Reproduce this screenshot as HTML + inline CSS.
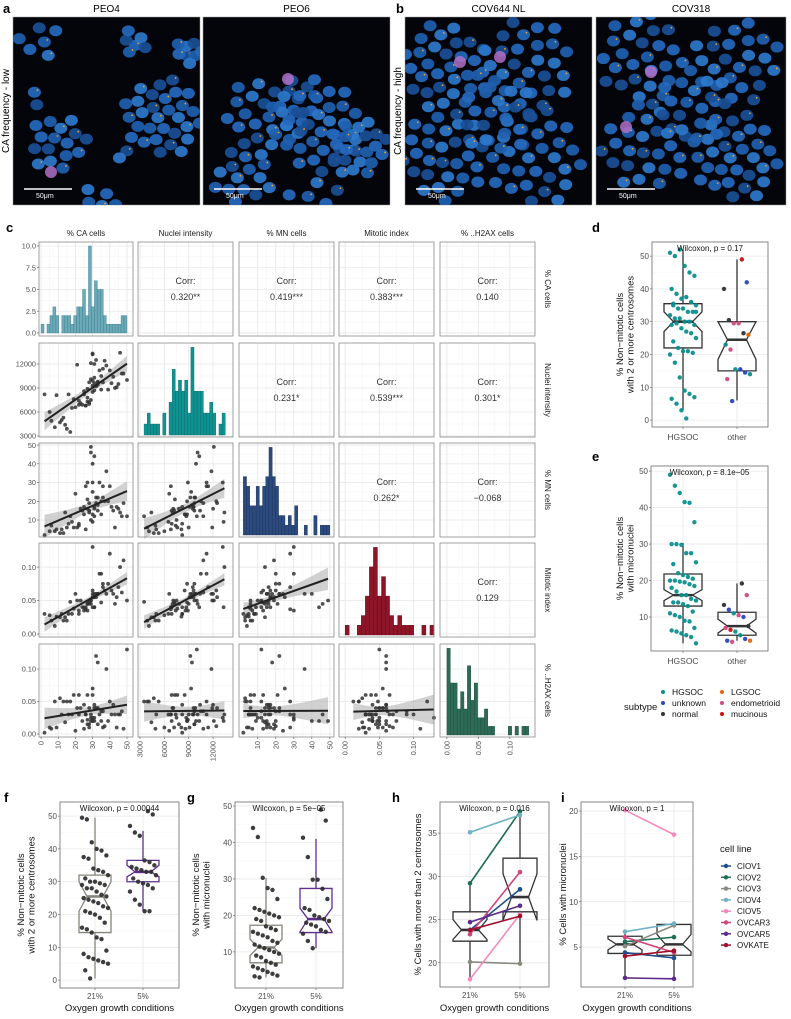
<!DOCTYPE html>
<html><head><meta charset="utf-8">
<style>
html,body{margin:0;padding:0;background:#fff;}
svg{display:block;font-family:"Liberation Sans",Arial,sans-serif;}
</style></head>
<body>
<svg id="fig" width="791" height="1019" viewBox="0 0 791 1019" xmlns="http://www.w3.org/2000/svg"></svg>
<script>
// ---------------- DATA ----------------
const varNames = ["% CA cells","Nuclei intensity","% MN cells","Mitotic index","% ..H2AX cells"];
const caVals = [28,31,25,35,12,40,22,30,33,18,45,27,29,8,36,31,24,50,15,33,30,26,38,20,11,42,29,34,5,31,23,37,30,16,48,28,32,19,44,26,30,13,35,27,22,39,31,9,46,29,33,25,17,41,30,21,36,28,2,47,14,32,27,6,43];
const niVals = [9700,10300,8200,8800,5000,11200,7400,13200,9800,6500,9500,7300,12100,4100,11400,9600,6900,10000,3900,9700,8500,6800,11800,6600,4700,10400,10100,11200,6000,8700,7100,12400,9300,8200,10800,7000,9200,7600,9100,6800,9900,5300,10500,7800,6900,8800,12000,8100,13400,7500,9400,8600,3500,9600,13300,11900,9700,7200,8200,10800,4400,12500,8900,4900,9000];
const mnVals = [19,44,17,13,5,28,7,30,22,9,16,21,49,4,28,17,15,12,6,15,13,5,36,24,3,15,46,30,4,12,16,20,25,8,19,14,22,6,17,28,40,3,20,16,8,20,16,5,14,10,18,13,12,17,9,6,22,15,2,12,14,19,30,7,6];
const miVals = [0.05,0.04,0.04,0.047,0.03,0.12,0.035,0.13,0.06,0.03,0.07,0.045,0.05,0.012,0.07,0.055,0.04,0.05,0.02,0.06,0.065,0.04,0.06,0.06,0.025,0.06,0.045,0.09,0.028,0.04,0.05,0.065,0.055,0.03,0.11,0.045,0.06,0.038,0.055,0.037,0.06,0.02,0.09,0.045,0.03,0.075,0.06,0.026,0.1,0.05,0.06,0.035,0.048,0.065,0.04,0.05,0.075,0.048,0.03,0.062,0.025,0.055,0.035,0.02,0.045];
const h2Vals = [0.015,0.02,0.045,0.02,0.03,0.05,0.03,0.025,0.04,0.03,0.03,0.06,0.02,0.05,0.01,0.04,0.02,0.13,0.05,0.015,0.06,0.03,0.1,0.005,0.055,0.045,0.03,0.03,0.01,0.025,0.04,0.012,0.07,0.03,0.008,0.04,0.12,0.06,0.01,0.03,0.02,0.05,0.035,0.015,0.06,0.02,0.045,0.01,0.03,0.025,0.11,0.008,0.05,0.03,0.02,0.04,0.035,0.01,0.002,0.035,0.018,0.04,0.022,0.008,0.03];
const histCA = [1,0,1,2,3,2,0,2,2,2,1,2,3,3,5,2,10,3,6,5,5,2,1,1,1,1,1,2,2];
const histNI = [1,2,1,1,1,0,2,0,3,6,4,5,4,5,2,8,4,4,4,2,2,3,2,0,1,2];
const histMN = [6,5,3,3,5,3,5,6,9,6,5,2,2,1,2,1,3,0,0,1,0,0,2,0,1,1,1];
const histMI = [1,0,0,1,2,4,7,9,4,6,4,2,1,2,1,1,1,0,0,1,0,1];
const histH2 = [10,6,6,3,5,3,8,4,6,2,2,3,1,1,0,0,0,0,1,0,1,0,1,1];
const corrText = {"0-1":"0.320**","0-2":"0.419***","0-3":"0.383***","0-4":"0.140","1-2":"0.231*","1-3":"0.539***","1-4":"0.301*","2-3":"0.262*","2-4":"\u22120.068","3-4":"0.129"};

const subtypeNames = ["HGSOC","unknown","normal","LGSOC","endometrioid","mucinous"];
const dHGSOC = [51,50,52,47,45,44,40,38.5,37,37.5,36,35,35,34,34,33,33,32,31,31,30,30,29,29,29.5,28,27,26.5,25,24,22,21,21,20.5,20,17.5,13,9,8,7,6.5,5,3,0.5,36,33,35.5];
const dOther = [49,42,40,30.5,29.5,29.5,26.5,26,23,21.5,15.5,15.5,14.5,14,12.5,5.8];
const dOtherType = ["mucinous","unknown","normal","normal","endometrioid","endometrioid","normal","LGSOC","HGSOC","endometrioid","HGSOC","unknown","unknown","HGSOC","endometrioid","unknown"];
// box stats: [lo, q1, med, q3, hi, notchLo, notchHi]
const dBoxes = [[3,22,30,35.5,52,27,33],[6,15,24.5,30,49,18.5,30]];
const eHGSOC = [49,46,44,41.5,41.3,36,30,30,29.8,27.5,27.5,25,24.5,22,21.5,21,20.5,20,20,19.7,19.5,19,18.5,18,17,16,16,15,14.5,14,14,13.5,13,11.5,11,10.5,10,9,8.8,7,6.3,6,5.5,5,4.5,2.8];
const eOther = [19.2,16,13.3,12,11,10.5,10,7.5,7,6.5,6,5,4,3.5,3.5,3.2];
const eOtherType = ["normal","endometrioid","normal","unknown","HGSOC","endometrioid","unknown","normal","endometrioid","mucinous","HGSOC","HGSOC","unknown","LGSOC","unknown","endometrioid"];
const eBoxes = [[2.8,13,16,21.8,30.3,14.5,17.5],[3.5,5,7.5,11.3,19.2,5.6,9.4]];

const fLow = [49.5,49,42,40,39.5,38,37.5,37,34,33.5,33,32,31,30,30,29.5,29,29,28,28,27,26,25.5,25,24.5,24,23.5,22.5,22,21,20.5,20,19,17.5,16,15.5,14.5,13,12.5,9,8,7,6.5,6,5.5,5,3,0.5];
const fHigh = [51.5,50.5,47,45,44,36.5,36,35,34.5,34,33.5,33,33,32,31,30,29.5,29,28,27,24.5,23,21,21];
const fBoxes = [[0.5,14.5,25.5,32,49.5,21,30],[21,30,33,36.5,45.5,31.5,35]];
const gLow = [44,41.5,30.3,27.5,27,24.5,22,21.5,21,20.5,20,19.5,19,18.5,17,16.5,16,15.5,15,14.5,14,13,12.5,12,11.5,11,10.5,10,9.5,9,8.5,7.5,7,6.5,6,5.5,5,4.5,4,3.5,3.3,3];
const gHigh = [49,46,41.3,36,29.8,29.8,27.3,24.5,22,21.5,20,19.5,19,18.5,18,17.5,17,16,15.5,15,13,11];
const gBoxes = [[3,7,11.2,17.3,30.3,9,13.5],[11,15.3,19,27.4,41,15.5,22]];

const cellLines = ["CIOV1","CIOV2","CIOV3","CIOV4","CIOV5","OVCAR3","OVCAR5","OVKATE"];
const hLow = [23.8,29.2,20.1,35.1,18.1,23.3,24.7,23.8];
const hHigh = [28.5,37.5,19.9,37.1,25.6,30.5,26.6,25.4];
const hBoxes = [[18.1,22.5,23.8,25.9,29.2,22.7,25.0],[19.9,25.9,27.6,32.1,37.5,24.9,30.3]];
const iLow = [4.4,5.6,5.1,6.7,20.1,6.1,1.6,4.0];
const iHigh = [3.8,6.1,7.4,7.6,17.4,4.4,1.5,4.6];
const iBoxes = [[1.6,4.3,5.3,6.2,6.7,4.7,5.9],[1.5,4.1,5.3,7.5,7.6,4.5,6.4]];
const groups = ["21%","5%"];

// ---------------- helpers ----------------
const NS="http://www.w3.org/2000/svg";
const svg=document.getElementById("fig");
function mk(tag,attrs,parent){const e=document.createElementNS(NS,tag);for(const k in attrs)e.setAttribute(k,attrs[k]);(parent||svg).appendChild(e);return e;}
function txt(s,x,y,attrs,parent){const t=mk("text",Object.assign({x:x,y:y},attrs||{}),parent);t.textContent=s;return t;}
function lin(d0,d1,r0,r1){return v=>r0+(v-d0)*(r1-r0)/(d1-d0);}
const subColors={HGSOC:"#0b8f8f",unknown:"#2a45c0",normal:"#333333",LGSOC:"#e0640c",endometrioid:"#d04a82",mucinous:"#cc1010"};
const lineColors=["#1f4e8c","#1d6e55","#8a8a80","#6fb3c4","#f08cbc","#d1457a","#5b2a8c","#a0102a"];

// ---------------- panels a,b (images) ----------------
const imgs=[
 {x:13,y:17,w:187,h:188,t:"PEO4",cl:[[25,25,22,6],[120,25,14,6],[175,35,14,8],[150,100,40,30],[45,125,30,16],[20,80,10,2],[110,135,8,2],[85,185,20,7]],pink:[[38,155]]},
 {x:203,y:17,w:187,h:188,t:"PEO6",cl:[[60,100,40,22],[115,110,45,30],[155,130,30,22],[40,160,30,14],[110,185,30,8],[95,85,30,10]],pink:[[85,62]]},
 {x:405,y:17,w:187,h:188,t:"COV644 NL",cl:[[40,50,45,30],[120,50,50,30],[40,140,45,28],[130,140,50,30],[90,100,40,20]],pink:[[55,45],[95,40]]},
 {x:596,y:17,w:190,h:188,t:"COV318",cl:[[45,40,45,25],[140,45,45,25],[50,130,45,25],[140,140,45,30],[95,90,40,20]],pink:[[55,55],[30,110]]}
];
const clipDefs=mk("defs",{});
imgs.forEach((im,k)=>{
  const g=mk("g",{});
  
  
  const cp=mk("clipPath",{id:"cp"+k},clipDefs);mk("rect",{x:im.x,y:im.y,width:im.w,height:im.h},cp);
  mk("rect",{x:im.x,y:im.y,width:im.w,height:im.h,fill:"#03050a",stroke:"#999","stroke-width":0.5},g);
  const gg=mk("g",{"clip-path":"url(#cp"+k+")"},g);
  im.cl.forEach((c,ci)=>{
    for(let i=0;i<c[3];i++){
      const a=i*2.39996+ci, r=Math.sqrt(i+0.5)/Math.sqrt(c[3])*c[2];
      const cx=im.x+c[0]+Math.cos(a)*r, cy=im.y+c[1]+Math.sin(a)*r;
      const shade=["#1f5fb0","#2569be","#1a4f96","#2d78cc"][(i+ci)%4];
      mk("ellipse",{cx:cx,cy:cy,rx:6.5,ry:5.5,fill:shade,opacity:0.92},gg);
      if(i%3===0) mk("circle",{cx:cx+3,cy:cy-2,r:0.9,fill:"#f2a31c"},gg);
    }
  });
  im.pink.forEach(p=>mk("circle",{cx:im.x+p[0],cy:im.y+p[1],r:6,fill:"#b070c8",opacity:0.85},gg));
  mk("line",{x1:im.x+11,x2:im.x+59,y1:im.y+172,y2:im.y+172,stroke:"#fff","stroke-width":1.5},g);
  txt("50\u03bcm",im.x+23,im.y+181,{fill:"#fff","font-size":7},g);
  const ti=txt(im.t,im.x+im.w/2,12,{"font-size":10,"text-anchor":"middle"});
  
  
});
txt("a",3,13,{"font-size":13,"font-weight":"bold"});
txt("b",396,13,{"font-size":13,"font-weight":"bold"});
const lowT=txt("CA frequency - low",9,111,{"font-size":10,"text-anchor":"middle",transform:"rotate(-90 9 111)"});


const hiT=txt("CA frequency - high",401,111,{"font-size":10,"text-anchor":"middle",transform:"rotate(-90 401 111)"});



// ---------------- panel c: pairs matrix ----------------
txt("c",6,232,{"font-size":13,"font-weight":"bold"});
const vars=[caVals,niVals,mnVals,miVals,h2Vals];
const hists=[histCA,histNI,histMN,histMI,histH2];
const histRange=[[0,50],[3500,13500],[2,50],[0,0.13],[0,0.13]];
const histCol=[["#6aa9b8","#3f7d8c"],["#0f9292","#0a6767"],["#2b4a7e","#1c3157"],["#8c1528","#5e0c1a"],["#2e6b56","#1d4a3b"]];
const colsX=[[39,133],[138,233],[239,334],[339,434],[440,535]];
const rowsY=[[242,336],[343,437],[443,537],[543,637],[644,737]];
const xDom=[[-1.2,53.5],[2750,14460],[-0.4,52.3],[-0.009,0.13],[-0.011,0.14]];
const yDom=[[-0.35,10.46],[2880,14620],[0.93,51.1],[-0.0045,0.136],[-0.0046,0.1385]];
const ticks=[[0,10,20,30,40,50],[3000,6000,9000,12000],[10,20,30,40,50],[0,0.05,0.10],[0,0.05,0.10]];
const tickLab=[["0","10","20","30","40","50"],["3000","6000","9000","12000"],["10","20","30","40","50"],["0.00","0.05","0.10"],["0.00","0.05","0.10"]];
const countTicks=[0,2.5,5,7.5,10], countLab=["0.0","2.5","5.0","7.5","10.0"];
const mat=mk("g",{});


for(let j=0;j<5;j++){const h=txt(varNames[j],(colsX[j][0]+colsX[j][1])/2,236,{"font-size":8,fill:"#1a1a1a","text-anchor":"middle"},mat);
  
  }
for(let i=0;i<5;i++){const cy=(rowsY[i][0]+rowsY[i][1])/2;
  const s=txt(varNames[i],545,cy,{"font-size":8,fill:"#1a1a1a","text-anchor":"middle",transform:"rotate(90 545 "+cy+")"},mat);
  
  }
function fit(xs,ys){const n=xs.length;let mx=0,my=0;for(let k=0;k<n;k++){mx+=xs[k];my+=ys[k];}mx/=n;my/=n;
  let sxx=0,sxy=0;for(let k=0;k<n;k++){sxx+=(xs[k]-mx)**2;sxy+=(xs[k]-mx)*(ys[k]-my);}const b=sxy/sxx,a=my-b*mx;
  let ss=0;for(let k=0;k<n;k++)ss+=(ys[k]-a-b*xs[k])**2;const s=Math.sqrt(ss/(n-2));return {a,b,s,mx,sxx,n};}
for(let i=0;i<5;i++)for(let j=0;j<5;j++){
  const [x0,x1]=colsX[j],[y0,y1]=rowsY[i];
  const g=mk("g",{},mat);
  
  
  mk("rect",{x:x0,y:y0,width:x1-x0,height:y1-y0,fill:"#fff"},g);
  const sx=lin(xDom[j][0],xDom[j][1],x0,x1);
  const yd=(i===0)?yDom[0]:yDom[i];
  const sy=lin(yd[0],yd[1],y1,y0);
  const xt=ticks[j];
  for(let k=0;k<xt.length;k++){mk("line",{x1:sx(xt[k]),x2:sx(xt[k]),y1:y0,y2:y1,stroke:"#e6e6e6","stroke-width":0.8},g);
    if(k<xt.length-1){const m=(xt[k]+xt[k+1])/2;mk("line",{x1:sx(m),x2:sx(m),y1:y0,y2:y1,stroke:"#f3f3f3","stroke-width":0.5},g);}}
  const yt=(i===0)?countTicks:ticks[i];
  for(let k=0;k<yt.length;k++){if(sy(yt[k])<y0||sy(yt[k])>y1)continue;mk("line",{y1:sy(yt[k]),y2:sy(yt[k]),x1:x0,x2:x1,stroke:"#e6e6e6","stroke-width":0.8},g);
    if(k<yt.length-1){const m=(yt[k]+yt[k+1])/2;mk("line",{y1:sy(m),y2:sy(m),x1:x0,x2:x1,stroke:"#f3f3f3","stroke-width":0.5},g);}}
  if(i===j){
    const hv=hists[i],hr=histRange[i],mx=Math.max(...hv);
    const hy=(i===0)?sy:lin(0,mx*1.05,y1-2,y0);
    const base=(i===0)?sy(0):y1-2;
    const bw=(sx(hr[1])-sx(hr[0]))/hv.length;
    hv.forEach((c,k)=>{if(c<=0)return;const r=mk("rect",{x:sx(hr[0])+k*bw,y:hy(c),width:bw,height:base-hy(c),fill:histCol[i][0],stroke:histCol[i][1],"stroke-width":0.4},g);
      
      });
  } else if(i<j){
    const cx=(x0+x1)/2,cy=(y0+y1)/2;
    txt("Corr:",cx,cy-5,{"font-size":9,fill:"#333","text-anchor":"middle"},g);
    const v=txt(corrText[i+"-"+j],cx,cy+11,{"font-size":9,fill:"#333","text-anchor":"middle"},g);
    
    
  } else {
    const xs=vars[j],ys=vars[i];const f=fit(xs,ys);
    const xmin=Math.min(...xs),xmax=Math.max(...xs);let up=[],lo=[];
    for(let k=0;k<=20;k++){const xv=xmin+(xmax-xmin)*k/20;const yv=f.a+f.b*xv;const se=2*f.s*Math.sqrt(1/f.n+(xv-f.mx)**2/f.sxx);
      up.push(sx(xv)+","+sy(yv+se));lo.unshift(sx(xv)+","+sy(yv-se));}
    const band=mk("polygon",{points:up.concat(lo).join(" "),fill:"#b3b3b3",opacity:0.6},g);
    
    
    xs.forEach((xv,k)=>{const p=mk("circle",{cx:sx(xv),cy:sy(ys[k]),r:1.9,fill:"#333",opacity:0.85},g);
      
      });
    const rl=mk("line",{x1:sx(xmin),y1:sy(f.a+f.b*xmin),x2:sx(xmax),y2:sy(f.a+f.b*xmax),stroke:"#222","stroke-width":2},g);
    
    
  }
  mk("rect",{x:x0,y:y0,width:x1-x0,height:y1-y0,fill:"none",stroke:"#8a8a8a","stroke-width":0.8},g);
  if(j===0){
    yt.forEach((t,k)=>{const yy=sy(t);if(yy<y0-3||yy>y1+3)return;
      mk("line",{x1:x0-2,x2:x0,y1:yy,y2:yy,stroke:"#555","stroke-width":0.6},g);
      txt((i===0?countLab:tickLab[i])[k],x0-3,yy+2.7,{"font-size":7.3,fill:"#4d4d4d","text-anchor":"end"},g);});
  }
  if(i===4){
    xt.forEach((t,k)=>{const xx=sx(t);mk("line",{x1:xx,x2:xx,y1:y1,y2:y1+2,stroke:"#555","stroke-width":0.6},g);
      txt(tickLab[j][k],xx+2.5,y1+4,{"font-size":7.3,fill:"#4d4d4d","text-anchor":"end",transform:"rotate(-90 "+(xx+2.5)+" "+(y1+4)+")"},g);});
  }
}

// ---------------- box panel helper ----------------
function boxPanel(o){
  const g=mk("g",{});
  
  
  const sy=lin(o.dom[0],o.dom[1],o.y1,o.y0);
  mk("rect",{x:o.x0,y:o.y0,width:o.x1-o.x0,height:o.y1-o.y0,fill:"#fff"},g);
  o.ticks.forEach((t,k)=>{const yy=sy(t);
    mk("line",{x1:o.x0,x2:o.x1,y1:yy,y2:yy,stroke:"#e8e8e8","stroke-width":0.8},g);
    if(k<o.ticks.length-1){const m=sy((t+o.ticks[k+1])/2);mk("line",{x1:o.x0,x2:o.x1,y1:m,y2:m,stroke:"#f4f4f4","stroke-width":0.5},g);}
    mk("line",{x1:o.x0-2,x2:o.x0,y1:yy,y2:yy,stroke:"#555","stroke-width":0.6},g);
    const tl=txt(String(t),o.x0-3,yy+3,{"font-size":8,fill:"#4d4d4d","text-anchor":"end"},g);
    
    });
  o.cx.forEach((cx,k)=>{mk("line",{x1:cx,x2:cx,y1:o.y0,y2:o.y1,stroke:"#e8e8e8","stroke-width":0.8},g);
    mk("line",{x1:cx,x2:cx,y1:o.y1,y2:o.y1+2,stroke:"#555","stroke-width":0.6},g);
    const xl=txt(o.cats[k],cx,o.y1+(o.catDy||11),{"font-size":o.catFs||8,fill:"#4d4d4d","text-anchor":"middle"},g);
    
    });
  const boxes=mk("g",{},g);
  const drawBox=(b,cx,col)=>{const w=o.hw;const [lo,q1,md,q3,hi,nl,nh]=b;
    const bx=mk("g",{},boxes);
    
    
    mk("line",{x1:cx,x2:cx,y1:sy(q3),y2:sy(hi),stroke:col,"stroke-width":1.3},bx);
    mk("line",{x1:cx,x2:cx,y1:sy(q1),y2:sy(lo),stroke:col,"stroke-width":1.3},bx);
    const pts=[[cx-w,sy(q3)],[cx+w,sy(q3)],[cx+w,sy(nh)],[cx+w/2,sy(md)],[cx+w,sy(nl)],[cx+w,sy(q1)],[cx-w,sy(q1)],[cx-w,sy(nl)],[cx-w/2,sy(md)],[cx-w,sy(nh)]];
    mk("polygon",{points:pts.map(p=>p.join(",")).join(" "),fill:o.boxFill||"none",stroke:col,"stroke-width":1.3},bx);
    mk("line",{x1:cx-w/2,x2:cx+w/2,y1:sy(md),y2:sy(md),stroke:col,"stroke-width":2.6},bx);};
  o.boxes.forEach((b,k)=>{if(!o.boxOnTop)drawBox(b,o.cx[k],o.boxCol[k]);});
  o.points.forEach((arr,k)=>{arr.forEach((v,i)=>{const jit=(((i*37+k*11)%17)-8)/8*o.jit;
    const col=o.pcol?o.pcol(k,i):"#333";
    const p=mk("circle",{cx:o.cx[k]+jit,cy:sy(v),r:2.2,fill:col,opacity:0.95},g);
    
    });});
  if(o.after)o.after(g,sy);
  o.boxes.forEach((b,k)=>{if(o.boxOnTop)drawBox(b,o.cx[k],o.boxCol[k]);});
  mk("rect",{x:o.x0,y:o.y0,width:o.x1-o.x0,height:o.y1-o.y0,fill:"none",stroke:"#7a7a7a","stroke-width":0.9},g);
  const w=txt(o.wil,(o.x0+o.x1)/2,o.y0+9,{"font-size":8,fill:"#111","text-anchor":"middle"},g);
  
  
  const ty=(o.y0+o.y1)/2;
  o.ytitle.forEach((l,k)=>{const xx=o.ytx+k*10.5;const t=txt(l,xx,ty,{"font-size":o.ytfs||9.5,fill:"#111","text-anchor":"middle",transform:"rotate(-90 "+xx+" "+ty+")"},g);
    
    });
  if(o.xtitle){const t=txt(o.xtitle,(o.x0+o.x1)/2,1011,{"font-size":9.5,fill:"#111","text-anchor":"middle"},g);
    
    }
  txt(o.letter,o.lx,o.ly,{"font-size":13,"font-weight":"bold"});
}

// d
boxPanel({name:"panel-d",x0:652,x1:768,y0:242,y1:427,dom:[-2.1,54.3],ticks:[0,10,20,30,40,50],cx:[683,737],cats:["HGSOC","other"],catDy:13,catFs:8.5,
  boxes:dBoxes,boxCol:["#333","#333"],hw:19,jit:13,points:[dHGSOC,dOther],
  pcol:(k,i)=>k===0?subColors.HGSOC:subColors[dOtherType[i]],wil:"Wilcoxon, p = 0.17",
  ytitle:["% Non\u2212mitotic cells","with 2 or more centrosomes"],ytx:623,lx:592,ly:232,letter:"d"});
// e
boxPanel({name:"panel-e",x0:651,x1:768,y0:466,y1:651,dom:[0.68,51.4],ticks:[10,20,30,40,50],cx:[683,737],cats:["HGSOC","other"],catDy:13,catFs:8.5,
  boxes:eBoxes,boxCol:["#333","#333"],hw:19,jit:13,points:[eHGSOC,eOther],
  pcol:(k,i)=>k===0?subColors.HGSOC:subColors[eOtherType[i]],wil:"Wilcoxon, p = 8.1e\u221205",
  ytitle:["% Non\u2212mitotic cells","with micronuclei"],ytx:623,lx:592,ly:461,letter:"e"});
// subtype legend
const lg=mk("g",{});


txt("subtype",624,710,{"font-size":9.5,fill:"#111"},lg);
const legPos=[[663,695],[663,706],[663,717],[722,695],[722,706],[722,717]];
const legOrder=["HGSOC","unknown","normal","LGSOC","endometrioid","mucinous"];
legOrder.forEach((s,k)=>{const e=mk("g",{},lg);
  
  
  mk("circle",{cx:legPos[k][0],cy:legPos[k][1]-3,r:2,fill:subColors[s]},e);
  txt(s,legPos[k][0]+9,legPos[k][1],{"font-size":8.5,fill:"#111"},e);});

// f
boxPanel({name:"panel-f",x0:60,x1:179,y0:802,y1:988,dom:[-2.4,54.3],ticks:[0,10,20,30,40,50],cx:[95,143],cats:groups,
  boxes:fBoxes,boxCol:["#85857a","#5e2f8f"],hw:16,jit:13,points:[fLow,fHigh],wil:"Wilcoxon, p = 0.00044",
  ytitle:["% Non\u2212mitotic cells","with 2 or more centrosomes"],ytx:24,xtitle:"Oxygen growth conditions",lx:4,ly:802,letter:"f"});
// g
boxPanel({name:"panel-g",x0:235,x1:343,y0:802,y1:988,dom:[0.1,51.1],ticks:[10,20,30,40,50],cx:[266,316],cats:groups,
  boxes:gBoxes,boxCol:["#85857a","#5e2f8f"],hw:16,jit:13,points:[gLow,gHigh],wil:"Wilcoxon, p = 5e\u221205",
  ytitle:["% Non\u2212mitotic cells","with micronuclei"],ytx:199,xtitle:"Oxygen growth conditions",lx:187,ly:802,letter:"g"});
// h & i paired
function paired(low,high){return (g,sy,cx)=>{cellLines.forEach((c,k)=>{
  const l=mk("line",{x1:cx[0],y1:sy(low[k]),x2:cx[1],y2:sy(high[k]),stroke:lineColors[k],"stroke-width":1.6},g);
  
  
  mk("circle",{cx:cx[0],cy:sy(low[k]),r:2.3,fill:lineColors[k]},g);
  mk("circle",{cx:cx[1],cy:sy(high[k]),r:2.3,fill:lineColors[k]},g);});};}
const hcx=[470,520],icx=[625,674];
boxPanel({name:"panel-h",x0:440,x1:549,y0:802,y1:987,dom:[17.2,38.6],ticks:[20,25,30,35],cx:hcx,cats:groups,
  boxes:hBoxes,boxCol:["#333","#333"],hw:17,jit:0,points:[[],[]],boxOnTop:false,after:(g,sy)=>paired(hLow,hHigh)(g,sy,hcx),
  wil:"Wilcoxon, p = 0.016",ytitle:["% Cells with more than 2 centrosomes"],ytx:421,xtitle:"Oxygen growth conditions",lx:392,ly:802,letter:"h"});
boxPanel({name:"panel-i",x0:581,x1:693,y0:802,y1:987,dom:[0.6,21],ticks:[5,10,15,20],cx:icx,cats:groups,
  boxes:iBoxes,boxCol:["#333","#333"],hw:17,jit:0,points:[[],[]],after:(g,sy)=>paired(iLow,iHigh)(g,sy,icx),
  wil:"Wilcoxon, p = 1",ytitle:["% Cells with micronuclei"],ytx:566,xtitle:"Oxygen growth conditions",lx:561,ly:802,letter:"i"});
// cell line legend
const cl=mk("g",{});


txt("cell line",720,852,{"font-size":9.5,fill:"#111"},cl);
cellLines.forEach((c,k)=>{const y=866+k*11.3;const e=mk("g",{},cl);
  
  
  mk("line",{x1:721,x2:731,y1:y,y2:y,stroke:lineColors[k],"stroke-width":1.5},e);
  mk("circle",{cx:726,cy:y,r:2.2,fill:lineColors[k]},e);
  txt(c,737,y+3,{"font-size":8,fill:"#111"},e);});
</script>
</body></html>
